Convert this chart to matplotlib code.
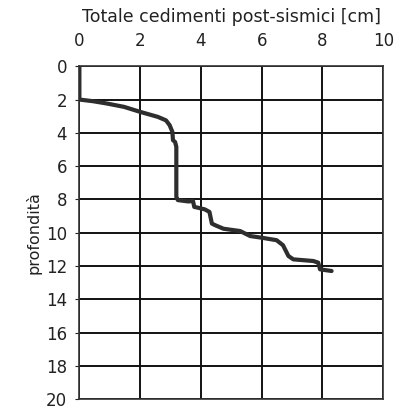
import numpy as np
import matplotlib
matplotlib.use("Agg")
import matplotlib.pyplot as plt

# settlement curve: x = cumulative settlement [cm], depth [m]
cedimento = [0.0, 0.0, 0.0, 0.45, 0.91, 1.47, 2.0, 2.58, 2.85, 2.97, 3.06, 3.08, 3.15, 3.19,
             3.19, 3.24, 3.58, 3.74, 3.78, 3.91, 4.13, 4.28, 4.32, 4.36, 4.47, 4.74,
             5.29, 5.62, 6.0, 6.49, 6.7, 6.88, 7.04, 7.7, 7.86, 7.92, 8.3]
profondita = [0.0, 1.0, 2.0, 2.1, 2.24, 2.44, 2.74, 3.04, 3.25, 3.54, 3.94, 4.44, 4.55, 4.84,
              7.84, 8.04, 8.12, 8.1, 8.45, 8.5, 8.6, 8.75, 9.1, 9.45, 9.55, 9.76,
              9.9, 10.2, 10.3, 10.45, 10.75, 11.4, 11.6, 11.7, 11.8, 12.2, 12.3]

x_ticks = [0, 2, 4, 6, 8, 10]
y_ticks = list(range(0, 21, 2))

fig = plt.figure(figsize=(4.03, 4.09), dpi=100)
ax = fig.add_axes([0.197, 0.024, 0.754, 0.814])

ax.plot(cedimento, profondita, color="#2e2e2e", linewidth=3.0,
        solid_capstyle="round", solid_joinstyle="round", zorder=3)

ax.set_xlim(0, 10)
ax.set_ylim(20, 0)
ax.set_xticks(x_ticks)
ax.set_yticks(y_ticks)
ax.xaxis.tick_top()
ax.xaxis.set_label_position("top")
ax.grid(True, color="#111111", linewidth=1.4)
ax.set_axisbelow(True)
for s in ax.spines.values():
    s.set_color("#333333")
    s.set_linewidth(1.2)

ax.tick_params(axis="x", length=0, pad=12, labelsize=12, colors="#222222")
ax.tick_params(axis="y", length=3, pad=6, labelsize=12, colors="#222222")
ax.set_xlabel("Totale cedimenti post-sismici [cm]", fontsize=12.5, labelpad=7, color="#222222")
ax.set_ylabel("profondità", fontsize=11.5, labelpad=3, color="#222222")

fig.savefig("out.png", dpi=100)
